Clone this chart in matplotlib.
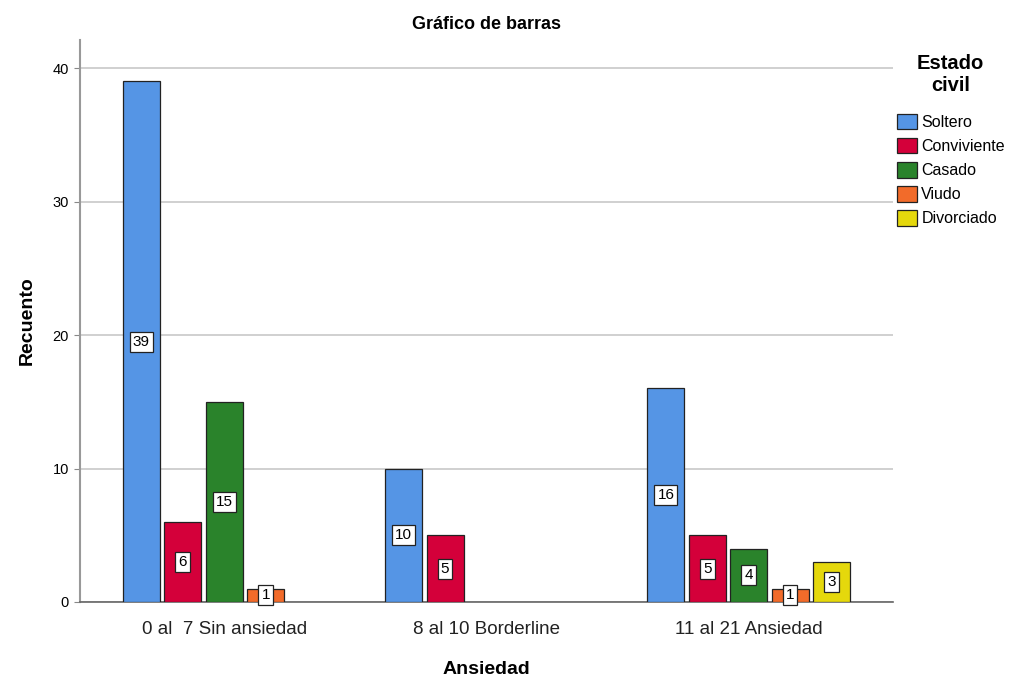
import matplotlib.pyplot as plt
import numpy as np

plt.rcParams['font.family'] = ['Liberation Sans', 'DejaVu Sans']

grupos = ["0 al  7 Sin ansiedad", "8 al 10 Borderline", "11 al 21 Ansiedad"]
estados = ["Soltero", "Conviviente", "Casado", "Viudo", "Divorciado"]
colores = ["#5595e5", "#d4003a", "#2a832b", "#f26b2a", "#e5d80c"]

# recuentos por estado civil (None = sin barra)
soltero = [39, 10, 16]
conviviente = [6, 5, 5]
casado = [15, None, 4]
viudo = [1, None, 1]
divorciado = [None, None, 3]
series = [soltero, conviviente, casado, viudo, divorciado]

fig = plt.figure(figsize=(10.15, 6.84), dpi=100)
ax = fig.add_axes([0.0788, 0.1199, 0.801, 0.8216])

x = np.arange(len(grupos))
slot = 0.158
ancho = 0.141
for i, (nombre, vals) in enumerate(zip(estados, series)):
    off = (i - 2) * slot
    xs = [xi + off for xi, v in zip(x, vals) if v is not None]
    hs = [v for v in vals if v is not None]
    ax.bar(xs, hs, width=ancho, color=colores[i], edgecolor="#222222",
           linewidth=0.9, label=nombre, zorder=3)
    for xx, h in zip(xs, hs):
        ax.text(xx, h / 2, str(h), ha="center", va="center", fontsize=11,
                zorder=5, bbox=dict(facecolor="white", edgecolor="#222222",
                                    linewidth=0.9, boxstyle="square,pad=0.2"))

ax.set_xlim(-0.55, 2.55)
ax.set_ylim(0, 42.1)
ax.set_yticks([0, 10, 20, 30, 40])
ax.set_xticks(x)
ax.set_xticklabels(grupos, fontsize=13.5, color="#222222")
ax.tick_params(axis="x", length=0, pad=14)
ax.tick_params(axis="y", labelsize=10.5, length=4, color="#888888", pad=4)
ax.yaxis.grid(True, color="#c8c8c8", linewidth=1.2, zorder=0)
for s in ["top", "right"]:
    ax.spines[s].set_visible(False)
ax.spines["left"].set_color("#999999")
ax.spines["left"].set_linewidth(1.5)
ax.spines["bottom"].set_color("#666666")
ax.spines["bottom"].set_linewidth(1.2)

ax.set_xlabel("Ansiedad", fontsize=14, fontweight="bold", labelpad=16)
ax.set_ylabel("Recuento", fontsize=14, fontweight="bold", labelpad=12)
ax.set_title("Gráfico de barras", fontsize=13, fontweight="bold", pad=8)

leg = ax.legend(loc="upper left", bbox_to_anchor=(0.877, 0.931),
                bbox_transform=fig.transFigure, frameon=False,
                title="Estado\ncivil", fontsize=11.5, handlelength=1.3,
                handleheight=1.1, handletextpad=0.25, labelspacing=0.5,
                borderaxespad=0)
leg.get_title().set_fontweight("bold")
leg.get_title().set_fontsize(14.5)
leg.get_title().set_multialignment("center")
leg._legend_box.sep = 14

fig.savefig("out.png", dpi=100)
